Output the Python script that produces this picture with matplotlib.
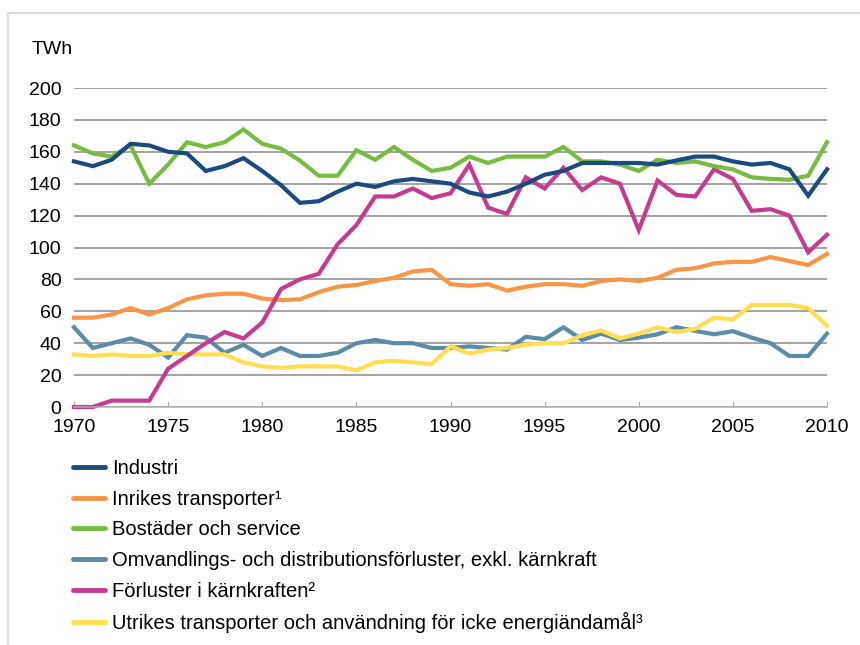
import matplotlib
matplotlib.use('Agg')
import matplotlib.pyplot as plt
from matplotlib.lines import Line2D

plt.rcParams['font.family'] = ['Liberation Sans', 'DejaVu Sans']

# years 1970-2010
years = list(range(1970, 2011))

industri = [154, 151, 155, 165, 164, 160, 159, 148, 151, 156,
            148, 139, 128, 129, 135, 140, 138, 141.5, 143, 141.5,
            140, 134.5, 132, 135, 140, 145.6, 148, 153, 153, 153,
            153, 152, 154.6, 157, 157, 154, 152, 153, 149, 132.5,
            149]
inrikes = [56, 56, 58, 62, 58, 62, 67.5, 70, 71, 71,
           68, 67, 67.5, 72, 75.4, 76.5, 79, 81, 85, 86,
           77, 76, 77, 73, 75.4, 77, 77, 76, 79, 80,
           79, 81, 86, 87, 90, 91, 91, 94, 91.5, 89,
           96]
bostader = [164, 159, 157, 164, 140, 152, 166, 163, 166, 174,
            165, 162, 154.5, 145, 145, 161, 155, 163, 155, 148,
            150, 157, 153, 157, 157, 157, 163, 154, 154, 152,
            148, 155, 153, 154, 151, 149, 144, 143, 142.5, 145,
            166]
omvandling = [50, 37, 40, 43, 39, 31, 45, 43.5, 34, 39,
              32, 37, 32, 32, 34, 40, 42, 40, 40, 37,
              37, 38, 37, 36, 44, 42.5, 50, 42, 46, 42,
              43.5, 45.6, 50, 47.7, 45.6, 47.5, 43.5, 40, 32, 32,
              46]
karnkraft = [0, 0, 4, 4, 4, 24, 32, 40, 47, 43,
             53, 74, 80, 83.5, 102, 114, 132, 132, 137, 131,
             134, 152, 125, 121, 144, 137, 150, 136, 144, 140,
             111, 142, 133, 132, 149, 143, 123, 124, 120, 97,
             108]
utrikes = [33, 32, 33, 32, 32, 34, 33, 33, 33, 28,
           25.5, 24.5, 25.5, 25.5, 25.5, 23, 28, 29, 28, 27,
           38, 33.5, 36, 37, 39, 40, 40, 45, 48, 43,
           46, 50, 47, 49, 56, 55, 64, 64, 64, 62,
           51]

labels = ['Industri',
          'Inrikes transporter\u00b9',
          'Bost\u00e4der och service',
          'Omvandlings- och distributionsf\u00f6rluster, exkl. k\u00e4rnkraft',
          'F\u00f6rluster i k\u00e4rnkraften\u00b2',
          'Utrikes transporter och anv\u00e4ndning f\u00f6r icke energi\u00e4ndam\u00e5l\u00b3']
colors = ['#1b4a7e', '#f79646', '#77bb41', '#5b8ba6', '#c53b90', '#ffdf4f']
series = [industri, inrikes, bostader, omvandling, karnkraft, utrikes]

fig = plt.figure(figsize=(8.6, 6.45), dpi=100)
ax = fig.add_axes([74 / 860, 1 - 407 / 645, (827 - 74) / 860, (407 - 88) / 645])

# gridlines behind the data
ax.set_axisbelow(True)
ax.yaxis.grid(True, color='#8a8a8a', linewidth=1.1)

# draw order: green and blue on top like the original
order = [3, 5, 1, 4, 2, 0]
for i in order:
    ax.plot(years, series[i], color=colors[i], linewidth=3.0,
            solid_joinstyle='miter', clip_on=False, label=labels[i])

ax.set_xlim(1970, 2010)
ax.set_ylim(0, 200)
ax.set_xticks(range(1970, 2011, 5))
ax.set_yticks(range(0, 201, 20))
ax.tick_params(axis='x', direction='in', length=4, color='#b0b0b0',
               labelsize=14, pad=9)
ax.tick_params(axis='y', length=0, labelsize=14, pad=9)
for s in ['top', 'right', 'left']:
    ax.spines[s].set_visible(False)
ax.spines['bottom'].set_color('#b0b0b0')
ax.spines['bottom'].set_linewidth(1.1)

fig.text(32 / 860, 1 - 50 / 645, 'TWh', fontsize=14, va='center', ha='left')

# legend below the chart
handles = [Line2D([], [], color=c, linewidth=3.5, solid_capstyle='round') for c in colors]
fig.legend(handles, labels, loc='upper left', bbox_to_anchor=(73 / 860, 1 - 459 / 645),
           frameon=False, fontsize=14.5, ncol=1, handlelength=1.6,
           handletextpad=0.35, labelspacing=0.58, borderpad=0, borderaxespad=0)

# thin grey frame on the left and top
fig.add_artist(Line2D([8 / 860, 8 / 860], [0, 1 - 13 / 645], color='#dcdcdc', linewidth=1.5))
fig.add_artist(Line2D([8 / 860, 1], [1 - 13 / 645, 1 - 13 / 645], color='#dcdcdc', linewidth=1.5))

fig.savefig('out.png', dpi=100)
